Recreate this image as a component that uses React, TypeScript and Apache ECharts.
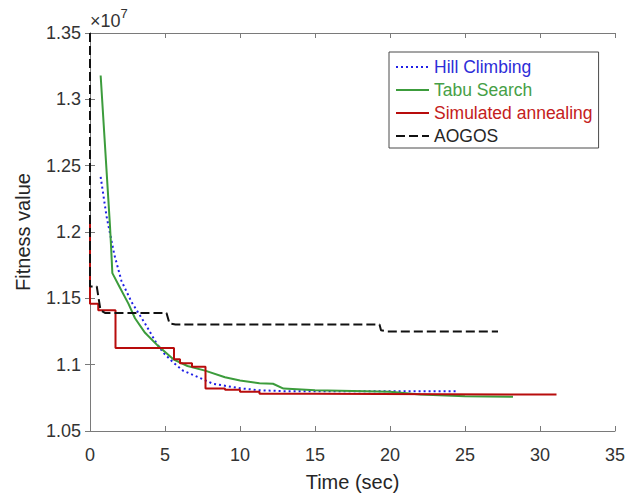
import React, { useEffect, useRef } from "react";
import * as echarts from "echarts";

const seriesNames = ["Hill Climbing", "Tabu Search", "Simulated annealing", "AOGOS"];

const hillClimbing: [number, number][] = [
  [0.71, 1.2416], [1.1, 1.212], [1.62, 1.183], [2.1, 1.163], [2.78, 1.147],
  [3.67, 1.131], [4.44, 1.116], [4.89, 1.109], [5.56, 1.1016], [6.2, 1.0955],
  [7.22, 1.0905], [8.2, 1.0856], [10, 1.0822], [11.3, 1.0807], [13, 1.08], [24.4, 1.08],
];

const tabuSearch: [number, number][] = [
  [0.71, 1.318], [1.33, 1.205], [1.4, 1.19], [1.49, 1.169], [2.0, 1.158], [2.56, 1.146],
  [3.0, 1.135], [3.67, 1.124], [4.55, 1.114], [5.56, 1.104], [6.5, 1.099],
  [7.67, 1.0955], [9, 1.0905], [10, 1.088], [11.3, 1.086], [12.2, 1.0856],
  [12.9, 1.082], [15, 1.0807], [20, 1.0795], [22, 1.0775], [25, 1.0762], [28.2, 1.0758],
];

const simulatedAnnealing: [number, number][] = [
  [0, 1.212], [0, 1.146], [0.55, 1.146], [0.55, 1.141], [1.7, 1.141], [1.7, 1.1125],
  [5.6, 1.1125], [5.6, 1.104], [6.0, 1.104], [6.0, 1.101], [6.8, 1.101], [6.8, 1.0985],
  [7.7, 1.0985], [7.7, 1.082], [9, 1.082], [9, 1.081], [10, 1.081], [10, 1.0795],
  [11.3, 1.0795], [11.3, 1.078], [15, 1.078], [15, 1.0775], [31.1, 1.0775],
];

const aogos: [number, number][] = [
  [0, 1.35], [0, 1.159], [0.45, 1.159], [0.7, 1.141], [1.0, 1.139], [5.1, 1.139],
  [5.3, 1.131], [5.7, 1.1303], [19.3, 1.1303], [19.4, 1.126], [19.8, 1.125], [27.2, 1.125],
];

const lineColors = ["#1f1fe6", "#3c9c3c", "#b80c0c", "#111111"];
const textColors = ["#2d2dd8", "#46a046", "#c42020", "#262626"];

const xTicks = { min: 0, max: 35, interval: 5 };
const yTicks = { min: 1.05, max: 1.35, interval: 0.05 };

export default function App() {
  const ref = useRef<HTMLDivElement>(null);
  useEffect(() => {
    if (!ref.current) return;
    const chart = echarts.init(ref.current, null, { renderer: "svg" });
    const font = "Liberation Sans, Arial, Helvetica, sans-serif";
    const axisLine = { show: true, lineStyle: { color: "#7a7a7a", width: 1 } };
    const axisTick = { show: true, inside: true, length: 5, lineStyle: { color: "#7a7a7a" } };
    const datas = [hillClimbing, tabuSearch, simulatedAnnealing, aogos];
    const types: any[] = [[2, 3], "solid", "solid", [9, 4]];
    chart.setOption({
      animation: false,
      backgroundColor: "#ffffff",
      textStyle: { fontFamily: font },
      grid: { left: 90, right: 20, top: 33, bottom: 57, containLabel: false },
      legend: {
        orient: "vertical",
        left: 389,
        top: 52,
        padding: [6, 6, 3, 6],
        itemWidth: 33,
        itemHeight: 14,
        itemGap: 5,
        backgroundColor: "#ffffff",
        borderColor: "#4a4a4a",
        borderWidth: 1,
        borderRadius: 0,
        itemStyle: { opacity: 0, borderWidth: 0 },
        textStyle: { fontSize: 17.5, lineHeight: 18, fontFamily: font },
        data: seriesNames.map((n, i) => ({ name: n, textStyle: { color: textColors[i] } })),
      },
      xAxis: [
        {
          type: "value",
          position: "bottom",
          min: xTicks.min,
          max: xTicks.max,
          interval: xTicks.interval,
          name: "Time (sec)",
          nameLocation: "middle",
          nameGap: 41,
          nameTextStyle: { fontSize: 20, color: "#262626", fontFamily: font, verticalAlign: "top" },
          axisLine,
          axisTick,
          axisLabel: { fontSize: 18, color: "#333333", margin: 15, fontFamily: font },
          splitLine: { show: false },
        },
        {
          type: "value",
          position: "top",
          min: xTicks.min,
          max: xTicks.max,
          interval: xTicks.interval,
          axisLine,
          axisTick,
          axisLabel: { show: false },
          splitLine: { show: false },
        },
      ],
      yAxis: [
        {
          type: "value",
          position: "left",
          min: yTicks.min,
          max: yTicks.max,
          interval: yTicks.interval,
          name: "Fitness value",
          nameLocation: "middle",
          nameGap: 57,
          nameTextStyle: { fontSize: 20, color: "#262626", fontFamily: font },
          axisLine,
          axisTick,
          axisLabel: {
            fontSize: 18,
            color: "#333333",
            margin: 9,
            fontFamily: font,
            formatter: (v: number) => String(+v.toFixed(2)),
          },
          splitLine: { show: false },
        },
        {
          type: "value",
          position: "right",
          min: yTicks.min,
          max: yTicks.max,
          interval: yTicks.interval,
          axisLine,
          axisTick,
          axisLabel: { show: false },
          splitLine: { show: false },
        },
      ],
      graphic: [
        {
          type: "text",
          left: 90,
          top: 7,
          style: {
            text: "{a|×10}{b|7}",
            rich: {
              a: { fontSize: 18, fill: "#333333", fontFamily: font, verticalAlign: "bottom" },
              b: { fontSize: 13, fill: "#333333", fontFamily: font, verticalAlign: "top", padding: [0, 0, 10, 0] },
            },
          },
        },
      ],
      series: seriesNames.map((n, i) => ({
        name: n,
        type: "line",
        data: datas[i],
        symbol: "none",
        showSymbol: false,
        xAxisIndex: 0,
        yAxisIndex: 0,
        lineStyle: { color: lineColors[i], width: 2, type: types[i] },
        itemStyle: { color: lineColors[i] },
        z: i === 3 ? 5 : 3,
      })),
    });
    return () => chart.dispose();
  }, []);
  return <div ref={ref} style={{ width: 635, height: 497, position: "absolute", left: 0, top: 0 }} />;
}
